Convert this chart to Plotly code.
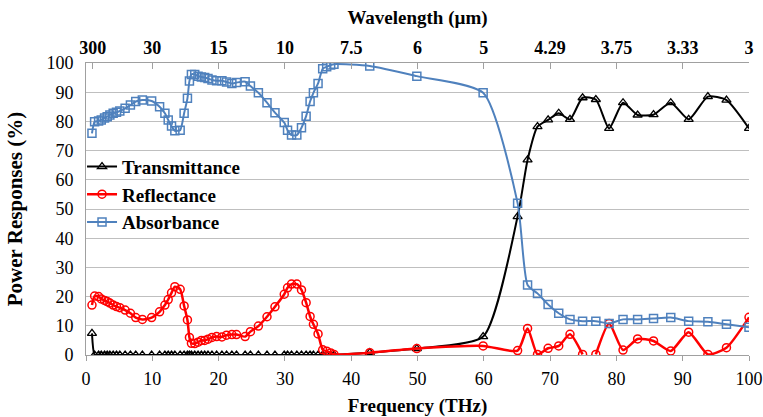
import plotly.graph_objects as go

# Frequencies (THz)
f_low = [0.9, 1.3, 1.9, 2.3, 2.8, 3.2, 3.6, 4.1, 4.6, 5.1, 5.9, 6.7, 7.5, 8.5, 9.9,
         11.1, 11.9, 12.4, 12.9, 13.4, 14.2, 14.8, 15.3, 15.6, 15.9, 16.4, 16.9, 17.4,
         17.9, 18.4, 19.0, 19.7, 20.5, 21.2, 22.0, 22.7, 24.0, 24.8, 26.0, 27.3, 28.5,
         29.9, 30.4, 31.0, 31.8, 32.5, 33.2, 33.8, 34.3, 35.0, 35.7, 36.3, 36.9, 37.4]
f_high = [42.8, 49.9, 59.9, 65.1, 66.6, 68.1, 69.7, 71.3, 73.0, 74.9, 76.9, 78.9,
          81.0, 83.2, 85.6, 88.2, 90.9, 93.8, 96.6, 100.0]

absorb_low = [75.9, 79.9, 80.1, 80.5, 81.2, 81.6, 82.2, 82.8, 83.1, 83.6, 84.5, 85.6,
              86.8, 87.3, 87.0, 85.0, 82.8, 80.5, 78.4, 76.8, 77.0, 82.8, 87.9, 93.8,
              96.1, 96.1, 95.5, 95.2, 95.0, 94.7, 94.2, 93.9, 93.9, 93.5, 93.0, 93.3,
              93.6, 92.1, 89.8, 86.4, 83.0, 79.6, 77.0, 75.3, 75.3, 77.8, 81.8, 86.8,
              89.8, 93.0, 98.0, 98.7, 99.3, 99.6]
absorb_high = [99.0, 95.5, 89.8, 52.0, 24.0, 21.1, 17.3, 14.3, 12.2, 11.6, 11.6, 10.8,
               12.2, 12.2, 12.5, 12.8, 11.6, 11.4, 10.5, 9.5]

reflect_low = [17.1, 20.2, 20.0, 19.2, 18.7, 18.3, 17.8, 17.1, 16.6, 16.2, 15.4, 14.3,
               12.8, 12.2, 12.8, 14.8, 17.1, 19.0, 21.3, 23.4, 22.5, 16.8, 12.0, 6.0,
               4.0, 3.9, 4.4, 5.0, 5.0, 5.4, 6.0, 6.3, 6.2, 6.8, 7.0, 7.0, 6.3, 8.0,
               9.9, 13.1, 16.5, 20.8, 23.0, 24.3, 24.3, 22.3, 17.9, 13.2, 10.5, 7.2,
               1.8, 1.3, 0.7, 0.2]
reflect_high = [0.8, 2.2, 3.1, 1.5, 9.1, 0.2, 2.3, 3.1, 7.1, 0.2, 0.2, 10.8,
                1.7, 5.5, 4.8, 1.4, 7.8, 0.2, 2.5, 12.9]
reflect_gap_after = 74.9  # line break between 74.9 and 76.9 THz

trans_low = [7.4] + [0.0] * (len(f_low) - 1)
trans_high = [0.8, 2.2, 6.3, 47.4, 66.8, 78.2, 80.5, 82.8, 80.7, 88.1, 87.5, 77.6,
              86.4, 82.2, 82.3, 86.4, 80.7, 88.5, 87.3, 77.6]

wl_ticks_f = [1, 10, 20, 30, 40, 50, 60, 70, 80, 90, 100]
wl_labels = ["300", "30", "15", "10", "7.5", "6", "5", "4.29", "3.75", "3.33", "3"]
y_ticks = list(range(0, 101, 10))

freq = f_low + f_high
absorb = absorb_low + absorb_high
trans = trans_low + trans_high

# reflectance with gap
ref_x, ref_y = [], []
for x, y in zip(freq, reflect_low + reflect_high):
    ref_x.append(x)
    ref_y.append(y)
    if x == reflect_gap_after:
        ref_x.append(None)
        ref_y.append(None)

FONT = "Liberation Serif"
BLUE = "#4F81BD"

fig = go.Figure()
fig.add_trace(go.Scatter(
    x=freq, y=trans, name="<b>Transmittance</b>", mode="lines+markers",
    line=dict(color="black", width=2, shape="spline", smoothing=0.6),
    marker=dict(symbol="triangle-up-open", size=8, color="black", line=dict(width=1.3))))
fig.add_trace(go.Scatter(
    x=ref_x, y=ref_y, name="<b>Reflectance</b>", mode="lines+markers",
    connectgaps=False,
    line=dict(color="#FF0000", width=2.5, shape="spline", smoothing=0.6),
    marker=dict(symbol="circle-open", size=8, color="#FF0000", line=dict(width=1.5))))
fig.add_trace(go.Scatter(
    x=freq, y=absorb, name="<b>Absorbance</b>", mode="lines+markers",
    line=dict(color=BLUE, width=2, shape="spline", smoothing=0.6),
    marker=dict(symbol="square-open", size=8, color=BLUE, line=dict(width=1.5))))
# dummy trace for the top axis
fig.add_trace(go.Scatter(x=[0, 100], y=[None, None], xaxis="x2", showlegend=False,
                         hoverinfo="skip", mode="lines"))

tick_font = dict(family=FONT, size=18, color="black")
title_font = dict(family=FONT, size=19, color="black")
fig.update_layout(
    width=763, height=417,
    margin=dict(l=86, r=14, t=63, b=62),
    paper_bgcolor="white", plot_bgcolor="white",
    font=dict(family=FONT, color="black"),
    showlegend=True,
    legend=dict(x=-0.006, y=0.71, xanchor="left", yanchor="top",
                bgcolor="rgba(0,0,0,0)", font=dict(family=FONT, size=19, color="black"),
                tracegroupgap=0),
    xaxis=dict(range=[0, 100], tickvals=list(range(0, 101, 10)), automargin=False,
               ticks="outside", ticklen=5, tickcolor="#A0A0A0",
               showline=True, linecolor="#A0A0A0", linewidth=1,
               showgrid=False, zeroline=False,
               tickfont=tick_font, ticklabelstandoff=2,
               tickprefix="<b>", ticksuffix="</b>",
               title=dict(text="<b>Frequency (THz)</b>", font=title_font, standoff=14)),
    xaxis2=dict(range=[0, 100], overlaying="x", side="top", anchor="y", automargin=False,
                tickvals=wl_ticks_f, ticktext=["<b>%s</b>" % t for t in wl_labels],
                ticks="inside", ticklen=6, tickcolor="#A0A0A0",
                showline=True, linecolor="#A0A0A0", linewidth=1,
                showgrid=False, zeroline=False, tickfont=tick_font, ticklabelstandoff=1,
                title=dict(text="<b>Wavelength (µm)</b>", font=title_font, standoff=8)),
    yaxis=dict(range=[0, 100], tickvals=y_ticks, automargin=False,
               showline=True, linecolor="#A0A0A0", linewidth=1,
               showgrid=True, gridcolor="#BFBFBF", gridwidth=1, zeroline=False,
               ticks="", tickfont=tick_font, tickprefix="<b>", ticksuffix="</b>",
               ticklabelstandoff=8,
               title=dict(text="<b>Power Responses (%)</b>",
                          font=dict(family=FONT, size=21, color="black"), standoff=18)),
)

fig.write_html("out.html")
